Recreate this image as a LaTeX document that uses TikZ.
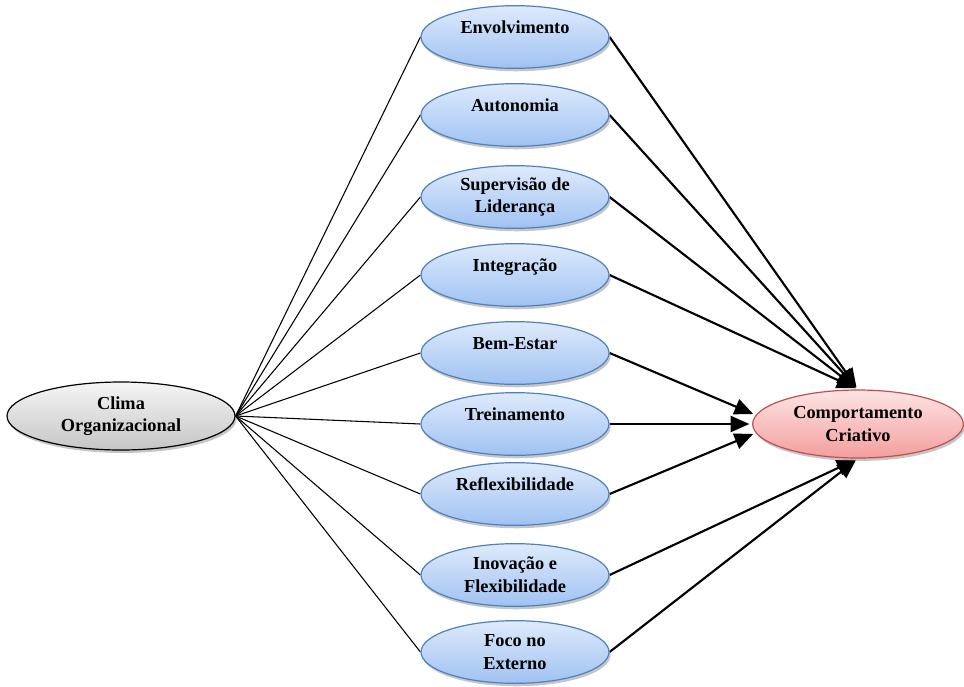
\documentclass[tikz,border=0pt]{standalone}
\usepackage{fontspec}
\setmainfont{Liberation Serif}
\usetikzlibrary{shapes.geometric,shadows,arrows.meta}
\pgfdeclarelayer{bg}
\pgfsetlayers{bg,main}

\definecolor{blueedge}{RGB}{79,129,189}
\definecolor{bluetop}{RGB}{222,234,251}
\definecolor{bluebot}{RGB}{160,194,242}
\definecolor{rededge}{RGB}{192,80,77}
\definecolor{redtop}{RGB}{253,228,228}
\definecolor{redbot}{RGB}{244,158,158}

\tikzset{
    factor/.style={ellipse, draw=blueedge, line width=0.9pt, top color=bluetop, bottom color=bluebot,
        minimum width=141pt, minimum height=47pt},
    uptext/.style={text height=10pt, text depth=15pt},
    link/.style={line width=0.8pt},
    arr/.style={line width=1.6pt, -{Triangle[length=14pt,width=12pt]}, shorten >=2pt},
}

\begin{document}
\begin{tikzpicture}[x=0.75pt, y=-0.75pt,
    every node/.style={inner sep=0pt, align=center, font=\fontsize{13.75pt}{17pt}\selectfont\bfseries,
        drop shadow={shadow xshift=1.2pt, shadow yshift=-2.2pt, opacity=0.45}}]
    \useasboundingbox (0,0) rectangle (964,686);

    \node (clima) [ellipse, draw, line width=0.9pt, top color=gray!8, bottom color=gray!45,
        minimum width=171pt, minimum height=51pt] at (121,416) {Clima\\Organizacional};

    \node (env) [factor, uptext] at (515,37) {Envolvimento};
    \node (aut) [factor, uptext] at (515,115) {Autonomia};
    \node (sup) [factor] at (515,197) {Supervis\~ao de\\Lideran\c{c}a};
    \node (integ) [factor, uptext] at (515,275) {Integra\c{c}\~ao};
    \node (bem) [factor, uptext] at (515,353) {Bem-Estar};
    \node (trein) [factor, uptext] at (515,424) {Treinamento};
    \node (refl) [factor, uptext] at (515,494) {Reflexibilidade};
    \node (inov) [factor] at (515,575) {Inova\c{c}\~ao e\\Flexibilidade};
    \node (foco) [factor] at (515,652) {Foco no\\Externo};

    \node (comp) [ellipse, draw=rededge, line width=0.9pt, top color=redtop, bottom color=redbot,
        minimum width=158pt, minimum height=51pt] at (858,424) {Comportamento\\Criativo};

    \begin{pgfonlayer}{bg}
        \draw[link] (clima.east) -- (env.west);
        \draw[link] (clima.east) -- (aut.west);
        \draw[link] (clima.east) -- (sup.west);
        \draw[link] (clima.east) -- (integ.west);
        \draw[link] (clima.east) -- (bem.west);
        \draw[link] (clima.east) -- (trein.west);
        \draw[link] (clima.east) -- (refl.west);
        \draw[link] (clima.east) -- (inov.west);
        \draw[link] (clima.east) -- (foco.west);

        \draw[arr] (env.east) -- (comp.north);
        \draw[arr] (aut.east) -- (comp.north);
        \draw[arr] (sup.east) -- (comp.north);
        \draw[arr] (integ.east) -- (comp.north);
        \draw[arr] (bem.east) -- (comp.175);
        \draw[arr] (trein.east) -- (comp.180);
        \draw[arr] (refl.east) -- (comp.185);
        \draw[arr] (inov.east) -- (comp.south);
        \draw[arr] (foco.east) -- (comp.south);
    \end{pgfonlayer}
\end{tikzpicture}
\end{document}
